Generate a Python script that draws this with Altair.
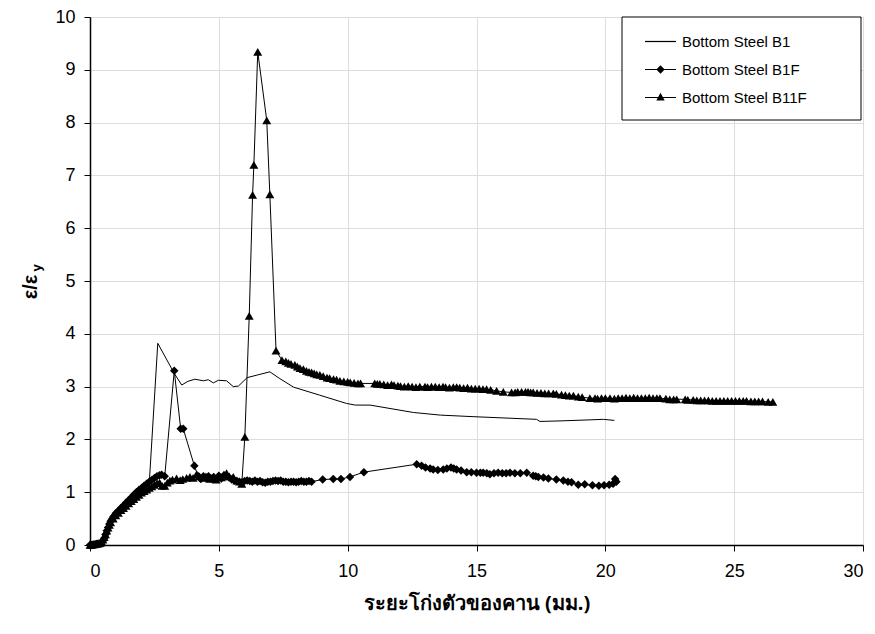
import altair as alt
import pandas as pd

series_names = ["Bottom Steel B1", "Bottom Steel B1F", "Bottom Steel B11F"]

b1_x = [0.0, 0.1, 0.2, 0.3, 0.4, 0.5, 0.6, 0.7, 0.8, 0.9, 1.0, 1.2, 1.4, 1.6, 1.8, 2.0, 2.15, 2.3,
        2.63, 3.27, 3.56, 3.8, 4.07, 4.4, 4.59, 4.79, 4.98, 5.3, 5.56, 5.76, 6.1, 6.5, 6.98, 7.37,
        7.9, 8.9, 9.96, 10.3, 10.87, 12.55, 13.6, 14.9, 17.33, 17.46, 18.24, 19.4, 19.92, 20.35]
b1_y = [0.0, 0.0, 0.01, 0.02, 0.03, 0.07, 0.2, 0.32, 0.42, 0.5, 0.57, 0.68, 0.78, 0.87, 0.95, 1.03, 1.1, 1.17,
        3.82, 3.25, 3.03, 3.1, 3.14, 3.11, 3.13, 3.07, 3.12, 3.11, 3.0, 3.01, 3.17, 3.22, 3.28, 3.15,
        2.99, 2.84, 2.68, 2.65, 2.65, 2.51, 2.46, 2.43, 2.38, 2.34, 2.35, 2.37, 2.38, 2.36]

b1f_x = [0.0, 0.05, 0.1, 0.15, 0.2, 0.25, 0.3, 0.35, 0.4, 0.45, 0.5, 0.55, 0.6, 0.65, 0.7, 0.75, 0.8, 0.85,
         0.9, 0.95, 1.0, 1.1, 1.2, 1.3, 1.4, 1.5, 1.6, 1.7, 1.8, 1.9, 2.0, 2.1, 2.2, 2.3, 2.4, 2.5, 2.6,
         2.7, 2.78, 2.9, 3.27, 3.52, 3.62, 4.05, 4.2, 4.3, 4.4, 4.5, 4.6, 4.7, 4.8, 4.9, 5.0, 5.1, 5.2,
         5.3, 5.4, 5.5, 5.6, 5.7, 5.8, 5.9, 6.0, 6.1, 6.2, 6.3, 6.4, 6.5, 6.6, 6.7, 6.8, 6.9, 7.0, 7.1,
         7.2, 7.3, 7.4, 7.5, 7.6, 7.7, 7.8, 7.9, 8.0, 8.1, 8.2, 8.3, 8.4, 8.5, 8.6, 9.03, 9.44, 9.74,
         10.09, 10.63, 12.68, 12.87, 13.02, 13.2, 13.32, 13.5, 13.71, 13.85, 14.01, 14.12, 14.23, 14.4,
         14.62, 14.8, 15.0, 15.15, 15.26, 15.4, 15.52, 15.68, 15.84, 16.0, 16.15, 16.3, 16.49, 16.7,
         16.95, 17.2, 17.3, 17.4, 17.6, 17.79, 18.1, 18.37, 18.55, 18.69, 18.95, 19.2, 19.5, 19.75,
         19.95, 20.15, 20.3, 20.38, 20.43]
b1f_y = [0.0, 0.0, 0.0, 0.01, 0.01, 0.02, 0.02, 0.03, 0.03, 0.05, 0.08, 0.13, 0.2, 0.27, 0.33, 0.4, 0.45,
         0.49, 0.53, 0.56, 0.6, 0.65, 0.7, 0.75, 0.8, 0.85, 0.9, 0.95, 1.0, 1.04, 1.08, 1.12, 1.16, 1.2,
         1.23, 1.27, 1.3, 1.32, 1.33, 1.3, 3.3, 2.2, 2.2, 1.5, 1.3, 1.25, 1.3, 1.27, 1.3, 1.26, 1.29,
         1.25, 1.31, 1.26, 1.32, 1.3, 1.28, 1.24, 1.22, 1.21, 1.2, 1.19, 1.21, 1.22, 1.21, 1.2, 1.22,
         1.2, 1.21, 1.19, 1.18, 1.2, 1.2, 1.21, 1.22, 1.21, 1.22, 1.2, 1.2, 1.19, 1.2, 1.2, 1.19, 1.2,
         1.21, 1.2, 1.2, 1.21, 1.2, 1.24, 1.25, 1.25, 1.29, 1.38, 1.53, 1.5, 1.47, 1.45, 1.43, 1.42,
         1.43, 1.45, 1.47, 1.45, 1.43, 1.41, 1.38, 1.38, 1.37, 1.37, 1.37, 1.36, 1.34, 1.36, 1.37,
         1.36, 1.36, 1.37, 1.36, 1.36, 1.37, 1.31, 1.3, 1.29, 1.28, 1.26, 1.24, 1.22, 1.2, 1.19, 1.14,
         1.15, 1.13, 1.12, 1.13, 1.14, 1.16, 1.25, 1.2]

b11f_x = [0.0, 0.05, 0.1, 0.15, 0.2, 0.25, 0.3, 0.35, 0.4, 0.45, 0.5, 0.55, 0.6, 0.65, 0.7, 0.75, 0.8,
          0.9, 1.0, 1.1, 1.2, 1.3, 1.4, 1.5, 1.6, 1.7, 1.8, 1.9, 2.0, 2.1, 2.2, 2.3, 2.4, 2.5, 2.6, 2.7,
          2.8, 2.9, 3.0, 3.1, 3.2, 3.36, 3.5, 3.6, 3.75, 3.88, 4.0, 4.14, 4.25, 4.4, 4.5, 4.65, 4.79,
          4.9, 5.0, 5.1, 5.2, 5.3, 5.4, 5.56, 5.7, 5.8, 5.89, 6.01, 6.18, 6.31, 6.36, 6.51, 6.86, 6.98,
          7.22, 7.45, 7.6, 7.7, 7.8, 7.95, 8.05, 8.15, 8.28, 8.4, 8.5, 8.6, 8.7, 8.8, 8.92, 9.05, 9.2,
          9.3, 9.45, 9.57, 9.7, 9.85, 10.0, 10.1, 10.25, 10.4, 10.5, 11.05, 11.15, 11.25, 11.4, 11.55,
          11.7, 11.8, 11.95, 12.05, 12.2, 12.35, 12.5, 12.65, 12.8, 13.0, 13.1, 13.25, 13.4, 13.55,
          13.7, 13.8, 13.95, 14.1, 14.23, 14.35, 14.5, 14.65, 14.8, 14.95, 15.1, 15.25, 15.39, 15.55,
          15.78, 16.04, 16.36, 16.5, 16.6, 16.75, 16.9, 17.0, 17.1, 17.2, 17.35, 17.5, 17.65, 17.8,
          17.98, 18.1, 18.3, 18.45, 18.6, 18.76, 18.95, 19.1, 19.4, 19.6, 19.7, 19.85, 20.0, 20.18,
          20.35, 20.5, 20.65, 20.8, 20.95, 21.1, 21.25, 21.4, 21.55, 21.7, 21.85, 22.0, 22.12, 22.35,
          22.5, 22.65, 22.77, 23.1, 23.2, 23.41, 23.55, 23.7, 23.85, 24.0, 24.15, 24.3, 24.45, 24.6,
          24.75, 24.9, 25.05, 25.2, 25.35, 25.48, 25.65, 25.8, 25.95, 26.1, 26.32, 26.5]
b11f_y = [0.0, 0.0, 0.01, 0.01, 0.02, 0.02, 0.03, 0.03, 0.04, 0.06, 0.1, 0.15, 0.2, 0.27, 0.33, 0.38,
          0.43, 0.5, 0.56, 0.61, 0.66, 0.7, 0.74, 0.79, 0.83, 0.87, 0.91, 0.95, 0.99, 1.02, 1.05, 1.08,
          1.11, 1.14, 1.17, 1.18, 1.12, 1.12, 1.18, 1.22, 1.24, 1.26, 1.23, 1.25, 1.27, 1.29, 1.27,
          1.34, 1.3, 1.27, 1.3, 1.25, 1.26, 1.24, 1.3, 1.28, 1.33, 1.36, 1.3, 1.29, 1.22, 1.2, 1.16,
          2.05, 4.34, 6.63, 7.2, 9.34, 8.04, 6.64, 3.68, 3.5, 3.48, 3.45, 3.43, 3.41, 3.38, 3.35, 3.33,
          3.3, 3.28, 3.27, 3.25, 3.23, 3.22, 3.2, 3.17, 3.16, 3.14, 3.13, 3.11, 3.1, 3.09, 3.08, 3.07,
          3.06, 3.06, 3.06, 3.05, 3.05, 3.04, 3.03, 3.04, 3.03, 3.02, 3.01, 3.0, 3.01, 3.0, 2.99, 3.0,
          3.0, 2.99, 3.0, 3.0, 2.99, 3.0, 2.99, 2.98, 2.99, 2.99, 2.98, 2.97, 2.98, 2.96, 2.96, 2.96,
          2.95, 2.95, 2.94, 2.92, 2.9, 2.89, 2.89, 2.9, 2.9, 2.9, 2.9, 2.89, 2.89, 2.88, 2.88, 2.87,
          2.87, 2.87, 2.86, 2.85, 2.84, 2.83, 2.83, 2.81, 2.8, 2.78, 2.78, 2.77, 2.78, 2.78, 2.78, 2.77,
          2.78, 2.78, 2.79, 2.78, 2.79, 2.78, 2.78, 2.78, 2.79, 2.78, 2.78, 2.78, 2.77, 2.76, 2.76,
          2.76, 2.76, 2.75, 2.75, 2.74, 2.74, 2.74, 2.74, 2.73, 2.73, 2.73, 2.73, 2.73, 2.73, 2.73,
          2.73, 2.73, 2.73, 2.72, 2.72, 2.72, 2.72, 2.71, 2.71]

x_ticks = [0, 5, 10, 15, 20, 25, 30]
y_ticks = [0, 1, 2, 3, 4, 5, 6, 7, 8, 9, 10]
x_title = "ระยะโก่งตัวของคาน (มม.)"
y_title_main = "ε/ε"
y_title_sub = "y"

FONT = "Liberation Sans, Arial, sans-serif"


def frame(xs, ys, name):
    return pd.DataFrame({"x": xs, "y": ys, "i": list(range(len(xs))), "s": name})


df_b1 = frame(b1_x, b1_y, series_names[0])
df_b1f = frame(b1f_x, b1f_y, series_names[1])
df_b11f = frame(b11f_x, b11f_y, series_names[2])

x_scale = alt.Scale(domain=[0, 30], nice=False, zero=False)
y_scale = alt.Scale(domain=[0, 10], nice=False)

x_axis = alt.Axis(values=x_ticks, title=x_title, titleFont="Noto Sans, sans-serif",
                  titleFontSize=20, titleFontWeight="bold", titlePadding=13,
                  labelFont=FONT, labelFontSize=18, labelPadding=11, tickSize=6,
                  labelColor="black", titleColor="black", domainColor="black",
                  domainWidth=1.5, tickColor="black", grid=True)
y_axis = alt.Axis(values=y_ticks, title=None, labelFont=FONT, labelFontSize=18,
                  labelPadding=9, tickSize=6, labelColor="black", domainColor="black",
                  domainWidth=1.5, tickColor="black", grid=True)


def xy():
    return dict(
        x=alt.X("x:Q", scale=x_scale, axis=x_axis),
        y=alt.Y("y:Q", scale=y_scale, axis=y_axis),
        order=alt.Order("i:Q"),
    )


line_b1 = alt.Chart(df_b1).mark_line(color="black", strokeWidth=1).encode(**xy())
line_b1f = alt.Chart(df_b1f).mark_line(color="black", strokeWidth=1).encode(**xy())
line_b11f = alt.Chart(df_b11f).mark_line(color="black", strokeWidth=1).encode(**xy())
pts_b1f = alt.Chart(df_b1f).mark_point(shape="diamond", filled=True, color="black",
                                        size=72, opacity=1).encode(**xy())
pts_b11f = alt.Chart(df_b11f).mark_point(shape="triangle-up", filled=True, color="black",
                                         size=80, opacity=1).encode(**xy())

legend_box = alt.Chart(pd.DataFrame({"k": [0]})).mark_rect(
    fill="white", stroke="black", strokeWidth=1
).encode(x=alt.value(532), x2=alt.value(771), y=alt.value(0), y2=alt.value(103))

legend_paths = [
    "M-1,-0.04H1V0.04H-1Z",
    "M-1,-0.04H1V0.04H-1ZM0,-0.27L0.27,0L0,0.27L-0.27,0Z",
    "M-1,-0.04H1V0.04H-1ZM0,-0.3L0.27,0.2L-0.27,0.2Z",
]
legend_df = pd.DataFrame({"s": series_names, "x": [0.0, 0.0, 0.0], "y": [0.0, 0.0, 0.0]})
legend_layer = alt.Chart(legend_df).mark_point(filled=True, color="black", size=0).encode(
    x=alt.X("x:Q", scale=x_scale, axis=x_axis),
    y=alt.Y("y:Q", scale=y_scale, axis=y_axis),
    shape=alt.Shape("s:N", sort=series_names,
                    scale=alt.Scale(domain=series_names, range=legend_paths),
                    legend=alt.Legend(
                        title=None, orient="none", legendX=532, legendY=0,
                        padding=8,
                        symbolSize=961, symbolOffset=14, symbolFillColor="black",
                        symbolOpacity=1,
                        labelFont=FONT, labelFontSize=15, labelColor="black",
                        labelOffset=5, rowPadding=3, labelLimit=400,
                    )),
)

ytitle_main = alt.Chart(pd.DataFrame({"t": [y_title_main]})).mark_text(
    angle=270, font=FONT, fontSize=20, fontWeight="bold", color="black",
    align="center", baseline="middle").encode(text="t:N", x=alt.value(-59), y=alt.value(270))
ytitle_sub = alt.Chart(pd.DataFrame({"t": [y_title_sub]})).mark_text(
    angle=270, font=FONT, fontSize=13, fontWeight="bold", color="black",
    align="center", baseline="middle").encode(text="t:N", x=alt.value(-53), y=alt.value(251))

chart = alt.layer(
    line_b1, line_b1f, line_b11f, pts_b1f, pts_b11f, legend_box, legend_layer,
    ytitle_main, ytitle_sub
).properties(
    width=773, height=528, autosize="none",
    padding={"left": 82, "top": 9, "right": 4, "bottom": 81},
).configure_view(
    stroke="black", strokeWidth=1.5
).configure_axis(
    gridColor="#888888", gridDash=[1, 1], gridWidth=1
).configure(background="white")

chart.save("out.html", embed_options={"renderer": "svg", "actions": False})
